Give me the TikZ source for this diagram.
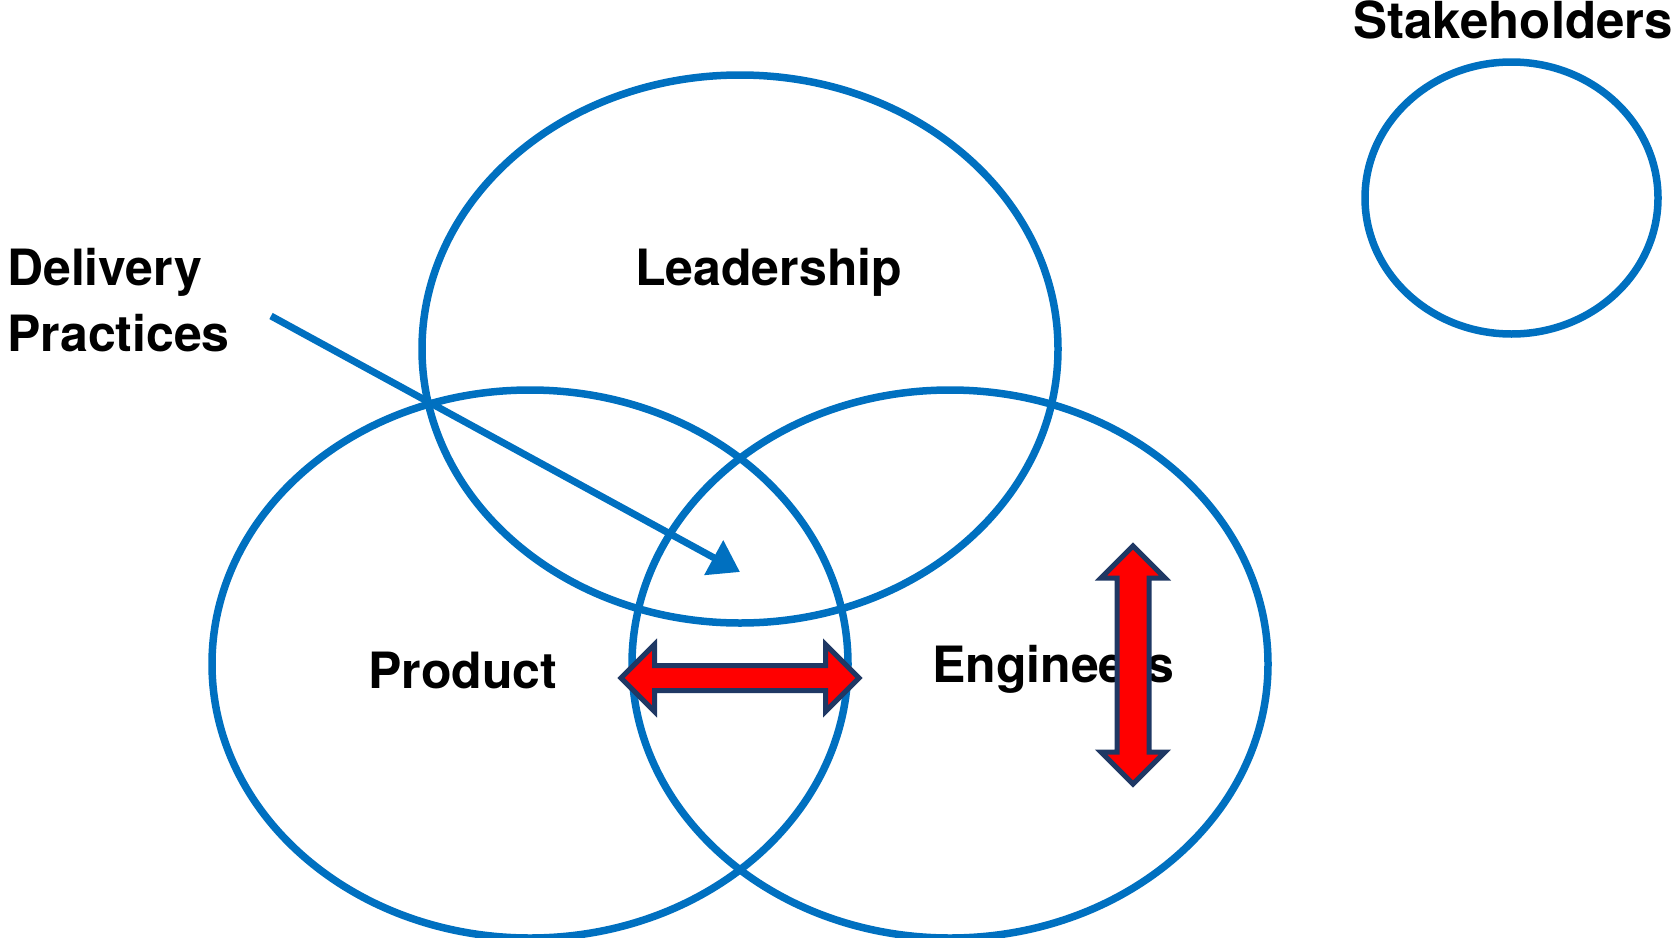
\documentclass[tikz,border=0pt]{standalone}
\usepackage{fontspec}
\setmainfont{TeX Gyre Heros}
\usetikzlibrary{shapes.geometric,arrows.meta}
\definecolor{vennblue}{HTML}{0070C0}
\definecolor{navyedge}{HTML}{1F3864}
\begin{document}
\begin{tikzpicture}[x=1pt,y=-1pt,
  venn/.style={ellipse,draw=vennblue,line width=7.5pt,inner sep=0pt,outer sep=0pt},
  lbl/.style={anchor=base west,inner sep=0pt,font=\fontsize{50}{66}\selectfont\bfseries,text=black},
  bluearrow/.style={draw=vennblue,line width=7pt,-{Triangle[length=30pt,width=38pt]}},
  redarrow/.style={fill=red,draw=navyedge,line width=5pt,line join=miter}]
\useasboundingbox (0,0) rectangle (1673,937);
% ellipses
\node[venn,minimum width=636pt,minimum height=548pt] (lead) at (740,349) {};
\node[venn,minimum width=636pt,minimum height=548pt] (prod) at (530,664) {};
\node[venn,minimum width=636pt,minimum height=548pt] (eng) at (950,664) {};
\node[venn,minimum width=293pt,minimum height=272pt] (stake) at (1511.5,198) {};
% labels
\node[lbl,font=\fontsize{51}{66}\selectfont\bfseries] (tstake) at (1353,38) {Stakeholders};
\node[lbl] (tlead) at (635,285) {Leadership};
\node[lbl,align=left,anchor=north west] (tdel) at (7,248) {Delivery\\Practices};
\node[lbl] (tprod) at (368,688) {Product};
\node[lbl] (teng) at (932,682) {Engineers};
% delivery arrow
\coordinate (dstart) at (271,316);
\coordinate (dtip) at (740,572);
\draw[bluearrow] (dstart) -- (dtip);
% red double arrows
\draw[redarrow] (621,678) -- (654.5,644.5) -- (654.5,665.5) -- (825.5,665.5) -- (825.5,644.5) -- (859,678) -- (825.5,711.5) -- (825.5,690.5) -- (654.5,690.5) -- (654.5,711.5) -- cycle;
\draw[redarrow] (1133,546) -- (1165,578) -- (1149,578) -- (1149,752) -- (1165,752) -- (1133,784) -- (1101,752) -- (1117,752) -- (1117,578) -- (1101,578) -- cycle;
\end{tikzpicture}
\end{document}
